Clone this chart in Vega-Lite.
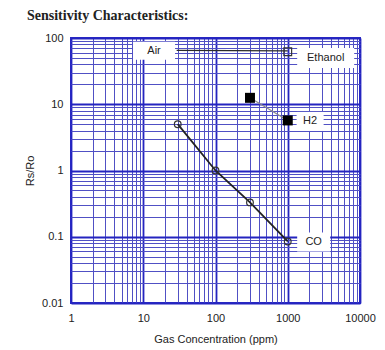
{
  "$schema": "https://vega.github.io/schema/vega-lite/v6.json",
  "width": 289,
  "height": 265,
  "autosize": {"type": "none"},
  "padding": {"left": 71, "top": 38, "right": 25, "bottom": 47},
  "background": "white",
  "title": {"text": "Sensitivity Characteristics:", "font": "Liberation Serif", "fontSize": 14, "fontWeight": "bold", "color": "#222222", "anchor": "start", "frame": "group", "dx": -44, "offset": 9},
  "config": {
    "view": {"stroke": "#2b2bc4", "strokeWidth": 2},
    "axis": {"labelFont": "Liberation Sans", "labelFontSize": 11, "labelColor": "#222222", "titleFont": "Liberation Sans", "titleFontSize": 11, "titleFontWeight": "normal", "titleColor": "#222222", "ticks": false, "domain": false, "grid": true, "labelOverlap": false, "labelFlush": false}
  },
  "datasets": {
    "series": [
      {"gas": "CO", "x": 30, "y": 5},
      {"gas": "CO", "x": 100, "y": 1},
      {"gas": "CO", "x": 300, "y": 0.33},
      {"gas": "CO", "x": 1000, "y": 0.085},
      {"gas": "H2", "x": 300, "y": 12.5},
      {"gas": "H2", "x": 1000, "y": 5.7},
      {"gas": "Ethanol", "x": 1000, "y": 62},
      {"gas": "Air", "x": 29, "y": 65},
      {"gas": "Air", "x": 1000, "y": 64}
    ],
    "labels": [
      {"label": "Air", "x": 14.1, "y": 64},
      {"label": "Ethanol", "x": 3350, "y": 50},
      {"label": "H2", "x": 2040, "y": 5.5},
      {"label": "CO", "x": 2285, "y": 0.083}
    ]
  },
  "layer": [
    {
      "data": {"name": "labels"},
      "mark": {"type": "point", "filled": true, "fill": "white", "stroke": null, "opacity": 1, "size": 3600},
      "encoding": {
        "x": {"field": "x", "type": "quantitative", "scale": {"type": "log", "domain": [1, 10000]},
          "title": "Gas Concentration (ppm)",
          "axis": {"values": [1,2,3,4,5,6,7,8,9,10,20,30,40,50,60,70,80,90,100,200,300,400,500,600,700,800,900,1000,2000,3000,4000,5000,6000,7000,8000,9000,10000],
            "labelExpr": "indexof([1,10,100,1000,10000], datum.value) >= 0 ? '' + datum.value : ''",
            "labelPadding": 9, "titlePadding": 10,
            "gridColor": {"condition": {"test": "indexof([1,10,100,1000,10000], datum.value) >= 0", "value": "#2424c0"}, "value": "#5050c4"},
            "gridWidth": {"condition": {"test": "indexof([1,10,100,1000,10000], datum.value) >= 0", "value": 1.8}, "value": 1}}},
        "y": {"field": "y", "type": "quantitative", "scale": {"type": "log", "domain": [0.01, 100]},
          "title": "Rs/Ro",
          "axis": {"values": [0.01,0.02,0.03,0.04,0.05,0.06,0.07,0.08,0.09,0.1,0.2,0.3,0.4,0.5,0.6,0.7,0.8,0.9,1,2,3,4,5,6,7,8,9,10,20,30,40,50,60,70,80,90,100],
            "labelExpr": "indexof([0.01,0.1,1,10,100], datum.value) >= 0 ? '' + datum.value : ''",
            "labelPadding": 8, "titlePadding": 6,
            "gridColor": {"condition": {"test": "indexof([0.01,0.1,1,10,100], datum.value) >= 0", "value": "#2424c0"}, "value": "#5050c4"},
            "gridWidth": {"condition": {"test": "indexof([0.01,0.1,1,10,100], datum.value) >= 0", "value": 1.8}, "value": 1}}},
        "shape": {"field": "label", "type": "nominal", "legend": null,
          "scale": {"domain": ["Air", "Ethanol", "H2", "CO"],
            "range": ["M-0.7,-0.3H0.7V0.3H-0.7Z", "M-0.95,-0.333H0.95V0.333H-0.95Z", "M-0.45,-0.317H0.45V0.317H-0.45Z", "M-0.55,-0.317H0.55V0.317H-0.55Z"]}}
      }
    },
    {
      "data": {"name": "series"},
      "transform": [{"filter": "datum.gas == 'Air'"}],
      "mark": {"type": "line", "color": "#2a2a2a", "strokeWidth": 1.4},
      "encoding": {"x": {"field": "x", "type": "quantitative"}, "y": {"field": "y", "type": "quantitative"}}
    },
    {
      "data": {"name": "series"},
      "transform": [{"filter": "datum.gas == 'H2'"}],
      "mark": {"type": "line", "color": "#8a8a8a", "strokeWidth": 1.2},
      "encoding": {"x": {"field": "x", "type": "quantitative"}, "y": {"field": "y", "type": "quantitative"}}
    },
    {
      "data": {"name": "series"},
      "transform": [{"filter": "datum.gas == 'CO'"}],
      "mark": {"type": "line", "color": "#222222", "strokeWidth": 1.8},
      "encoding": {"x": {"field": "x", "type": "quantitative"}, "y": {"field": "y", "type": "quantitative"}}
    },
    {
      "data": {"name": "series"},
      "transform": [{"filter": "datum.gas == 'CO'"}],
      "mark": {"type": "point", "shape": "circle", "filled": false, "stroke": "#333333", "strokeWidth": 1.2, "size": 45, "opacity": 1},
      "encoding": {"x": {"field": "x", "type": "quantitative"}, "y": {"field": "y", "type": "quantitative"}}
    },
    {
      "data": {"name": "series"},
      "transform": [{"filter": "datum.gas == 'H2'"}],
      "mark": {"type": "point", "shape": "square", "filled": true, "color": "#000000", "size": 100, "opacity": 1},
      "encoding": {"x": {"field": "x", "type": "quantitative"}, "y": {"field": "y", "type": "quantitative"}}
    },
    {
      "data": {"name": "series"},
      "transform": [{"filter": "datum.gas == 'Ethanol'"}],
      "mark": {"type": "point", "shape": "square", "filled": false, "stroke": "#333333", "strokeWidth": 1.2, "size": 60, "opacity": 1},
      "encoding": {"x": {"field": "x", "type": "quantitative"}, "y": {"field": "y", "type": "quantitative"}}
    },
    {
      "data": {"name": "labels"},
      "mark": {"type": "text", "font": "Liberation Sans", "fontSize": 11, "color": "#222222", "align": "center", "baseline": "middle"},
      "encoding": {"x": {"field": "x", "type": "quantitative"}, "y": {"field": "y", "type": "quantitative"}, "text": {"field": "label"}}
    }
  ]
}
